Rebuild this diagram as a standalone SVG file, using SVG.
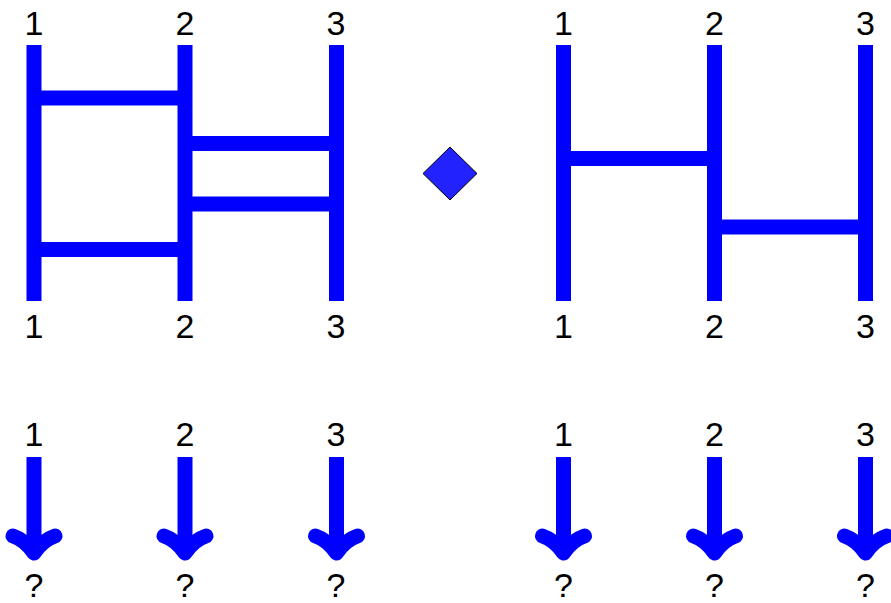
<svg xmlns="http://www.w3.org/2000/svg" width="891" height="603" viewBox="0 0 891 603">
<style>
.s{stroke:#0000ff;stroke-width:15;fill:none}
.h{stroke:#0000ff;stroke-width:15;fill:none;stroke-linecap:round;stroke-linejoin:round}
text{font-family:"Liberation Sans",Arial,sans-serif;font-size:34px;fill:#000;text-anchor:middle}
</style>
<defs>
<g id="arr"><line class="s" x1="0" y1="457" x2="0" y2="550"/><path class="h" d="M-21,536 Q-9,540 0,553 Q9,540 21,536"/></g>
</defs>
<rect width="891" height="603" fill="#fff"/>
<g id="braid-left">
<line class="s" x1="34" y1="45" x2="34" y2="301"/>
<line class="s" x1="185" y1="45" x2="185" y2="301"/>
<line class="s" x1="336.5" y1="45" x2="336.5" y2="301"/>
<line class="s" x1="34" y1="98" x2="185" y2="98"/>
<line class="s" x1="34" y1="249.5" x2="185" y2="249.5"/>
<line class="s" x1="185" y1="143.5" x2="336.5" y2="143.5"/>
<line class="s" x1="185" y1="204" x2="336.5" y2="204"/>
<text x="34" y="35">1</text><text x="185" y="35">2</text><text x="336" y="35">3</text>
<text x="34" y="338">1</text><text x="185" y="338">2</text><text x="336" y="338">3</text>
</g>
<g id="product">
<polygon points="450,147 477,173.5 450,200 423,173.5" fill="#2222ff" stroke="#000" stroke-width="1"/>
</g>
<g id="braid-right">
<line class="s" x1="563.5" y1="45" x2="563.5" y2="301"/>
<line class="s" x1="714.5" y1="45" x2="714.5" y2="301"/>
<line class="s" x1="865.5" y1="45" x2="865.5" y2="301"/>
<line class="s" x1="563.5" y1="158.5" x2="714.5" y2="158.5"/>
<line class="s" x1="714.5" y1="227" x2="865.5" y2="227"/>
<text x="563.5" y="35">1</text><text x="714.5" y="35">2</text><text x="865.5" y="35">3</text>
<text x="563.5" y="338">1</text><text x="714.5" y="338">2</text><text x="865.5" y="338">3</text>
</g>
<g id="connectors">
<use href="#arr" x="34"/>
<use href="#arr" x="185"/>
<use href="#arr" x="336.5"/>
<use href="#arr" x="563.5"/>
<use href="#arr" x="714.5"/>
<use href="#arr" x="865.5"/>
</g>
<g id="labels-bottom">
<text x="34" y="446">1</text><text x="185" y="446">2</text><text x="336" y="446">3</text>
<text x="563.5" y="446">1</text><text x="714.5" y="446">2</text><text x="865.5" y="446">3</text>
<text x="34" y="597">?</text><text x="185" y="597">?</text><text x="336" y="597">?</text>
<text x="563.5" y="597">?</text><text x="714.5" y="597">?</text><text x="865.5" y="597">?</text>
</g>
</svg>
